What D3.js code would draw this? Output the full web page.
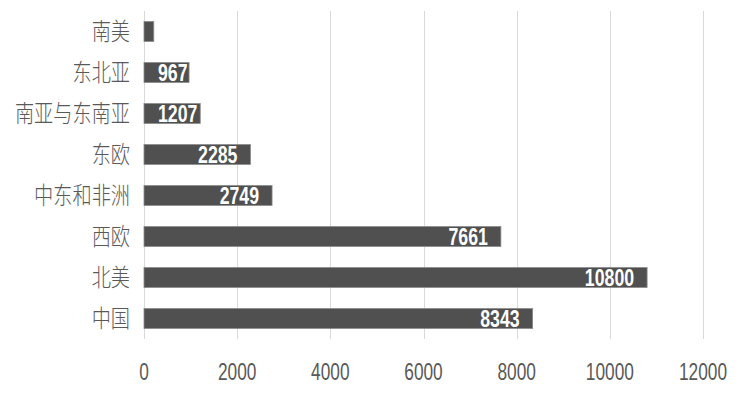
<!DOCTYPE html>
<html>
<head>
<meta charset="utf-8">
<script src="https://cdn.jsdelivr.net/npm/d3@7"></script>
<style>
  body { margin: 0; background: #fff; }
  svg { display: block; }
</style>
</head>
<body>
<div id="chart"></div>
<script>
// regions, top to bottom as drawn
var regions = ["南美", "东北亚", "南亚与东南亚", "东欧", "中东和非洲", "西欧", "北美", "中国"];
var values = [210, 967, 1207, 2285, 2749, 7661, 10800, 8343];
var ticks = [0, 2000, 4000, 6000, 8000, 10000, 12000];

var width = 741, height = 393;

var svg = d3.select("#chart").append("svg")
    .attr("width", width)
    .attr("height", height);

var x = d3.scaleLinear().domain([0, 12000]).range([144, 703]);
var y = d3.scaleBand().domain(regions).range([11, 339])
    .paddingInner(0.49).paddingOuter(0.245);

// gridlines
svg.append("g")
    .selectAll("line")
    .data(ticks)
    .enter()
    .append("line")
    .attr("x1", function(d){ return Math.round(x(d)) + 0.5; })
    .attr("x2", function(d){ return Math.round(x(d)) + 0.5; })
    .attr("y1", 11)
    .attr("y2", 339)
    .style("stroke", "#d9d9d9")
    .style("stroke-width", 1);

// tick labels (narrow look)
svg.append("g")
    .selectAll("text")
    .data(ticks)
    .enter()
    .append("text")
    .attr("transform", function(d){ return "translate(" + x(d) + ",380) scale(0.72,1)"; })
    .attr("text-anchor", "middle")
    .style("font-family", "'Liberation Sans', Arial, sans-serif")
    .style("font-size", "24px")
    .style("fill", "#595959")
    .text(function(d){ return d; });

// category labels
svg.append("g")
    .selectAll("text")
    .data(regions)
    .enter()
    .append("text")
    .attr("transform", function(d){
        return "translate(130," + (y(d) + y.bandwidth() / 2) + ") scale(0.8,1)";
    })
    .attr("dy", "0.36em")
    .attr("text-anchor", "end")
    .style("font-family", "'Noto Sans CJK SC', sans-serif")
    .style("font-weight", 300)
    .style("font-size", "24px")
    .style("fill", "#595959")
    .text(function(d){ return d; });

// bars
var rows = regions.map(function(r, i){ return {name: r, value: values[i]}; });

svg.append("g")
    .selectAll("rect")
    .data(rows)
    .enter()
    .append("rect")
    .attr("x", x(0))
    .attr("y", function(d){ return y(d.name) + 0.5; })
    .attr("width", function(d){ return x(d.value) - x(0); })
    .attr("height", y.bandwidth() - 1)
    .style("fill", "#505050")
    .style("stroke", "#8a8a8a")
    .style("stroke-width", 0.8);

// value labels inside the bar end
var sx = 0.77;
var labels = svg.append("g")
    .selectAll("text")
    .data(rows)
    .enter()
    .append("text")
    .attr("text-anchor", "start")
    .style("font-family", "'Liberation Sans', Arial, sans-serif")
    .style("font-weight", "bold")
    .style("font-size", "23px")
    .style("fill", "#ffffff")
    .text(function(d){ return d.value; });

labels.each(function(d){
    var t = d3.select(this);
    var w = this.getComputedTextLength() * sx;
    var barW = x(d.value) - x(0);
    if (barW < w) { t.remove(); return; }
    var left = x(d.value) - 13 - w;
    if (left < x(0) + 14) left = x(0) + 14;
    t.attr("transform", "translate(" + left + "," + (y(d.name) + y.bandwidth() / 2) + ") scale(" + sx + ",1)")
        .attr("dy", "0.36em");
});
</script>
</body>
</html>
